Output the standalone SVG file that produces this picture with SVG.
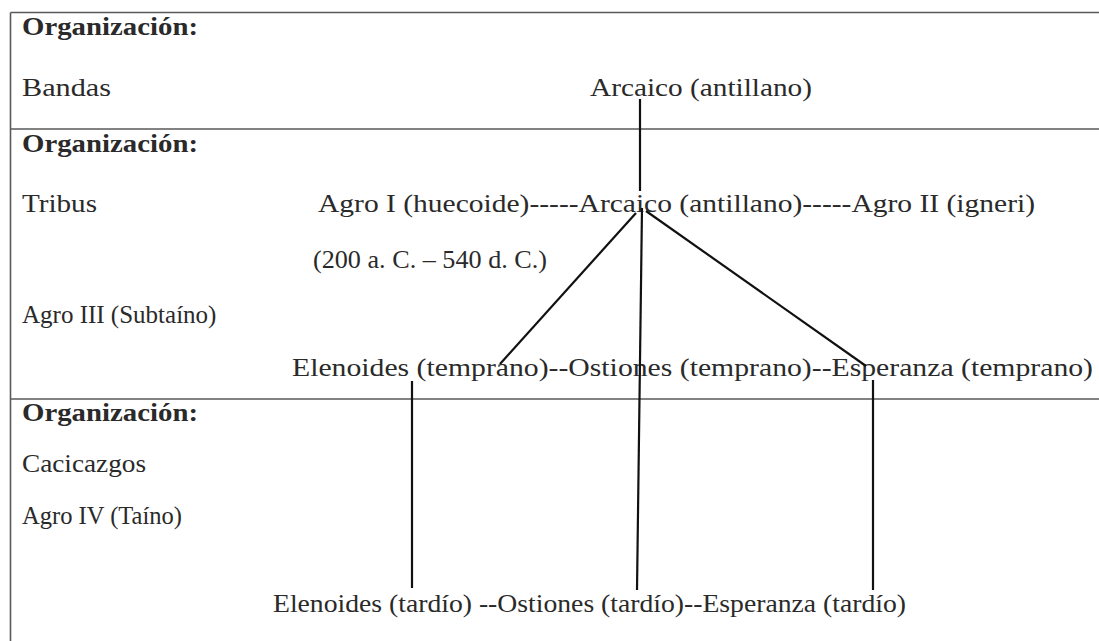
<svg xmlns="http://www.w3.org/2000/svg" width="1099" height="641" viewBox="0 0 1099 641">
<style>
text{font-family:"Times New Roman","Liberation Serif",Tinos,serif;font-size:26px;fill:#2a2a2a}
.h{font-weight:bold}
.s{font-size:25px}
.frame{stroke:#5a5a5a;stroke-width:1.6;fill:none}
.con line{stroke:#111;stroke-width:2.2}
</style>
<rect width="1099" height="641" fill="#fff"/>
<g id="frame">
<path class="frame" d="M10.5 12.5 H1110 M10.5 12.5 V650 M10.5 129 H1110 M10.5 399 H1110"/>
</g>
<g id="labels">
<text class="h" x="22" y="35" textLength="176" lengthAdjust="spacingAndGlyphs">Organización:</text>
<text x="22" y="96" textLength="89" lengthAdjust="spacingAndGlyphs">Bandas</text>
<text class="h" x="22" y="152" textLength="176" lengthAdjust="spacingAndGlyphs">Organización:</text>
<text x="22" y="212" textLength="75" lengthAdjust="spacingAndGlyphs">Tribus</text>
<text class="s" x="22" y="323">Agro III (Subtaíno)</text>
<text class="h" x="22" y="421" textLength="176" lengthAdjust="spacingAndGlyphs">Organización:</text>
<text x="22" y="472" textLength="124" lengthAdjust="spacingAndGlyphs">Cacicazgos</text>
<text class="s" x="22" y="524" textLength="160" lengthAdjust="spacingAndGlyphs">Agro IV (Taíno)</text>
</g>
<g id="n-arcaico-bandas"><text x="590" y="96" textLength="222" lengthAdjust="spacingAndGlyphs">Arcaico (antillano)</text></g>
<g id="n-tribus-row"><text x="318" y="212" textLength="717" lengthAdjust="spacingAndGlyphs">Agro I  (huecoide)-----Arcaico (antillano)-----Agro II (igneri)</text></g>
<g id="n-fecha"><text x="313" y="268" textLength="234" lengthAdjust="spacingAndGlyphs">(200 a. C. – 540 d. C.)</text></g>
<g id="n-temprano"><text x="292" y="376" textLength="801" lengthAdjust="spacingAndGlyphs">Elenoides (temprano)--Ostiones (temprano)--Esperanza (temprano)</text></g>
<g id="n-tardio"><text x="273" y="612" textLength="633" lengthAdjust="spacingAndGlyphs">Elenoides (tardío) --Ostiones (tardío)--Esperanza (tardío)</text></g>
<g id="connectors" class="con">
<line x1="640" y1="99" x2="640" y2="191"/>
<line x1="636" y1="213" x2="500" y2="364"/>
<line x1="642" y1="208" x2="637" y2="590"/>
<line x1="646" y1="211" x2="866" y2="366"/>
<line x1="412" y1="381" x2="412" y2="588"/>
<line x1="873" y1="380" x2="873" y2="590"/>
</g>
</svg>
